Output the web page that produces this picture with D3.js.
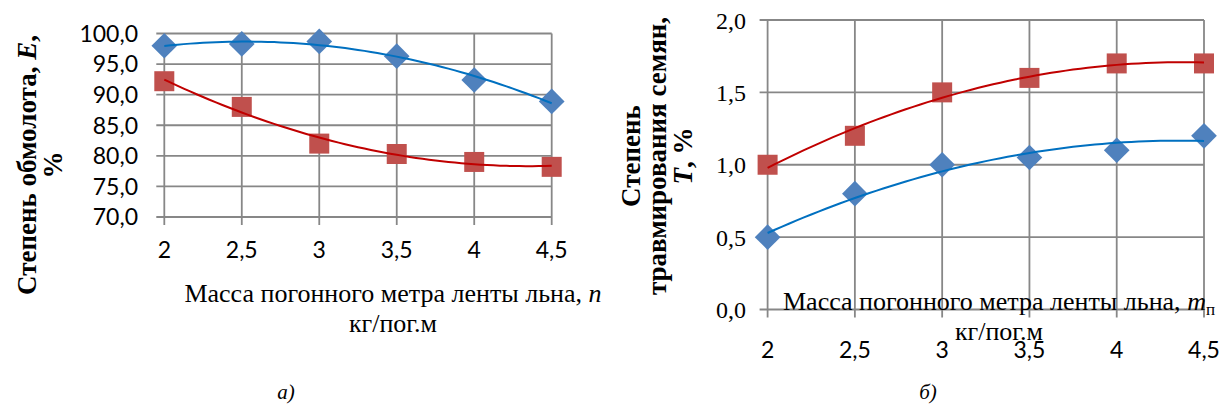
<!DOCTYPE html>
<html><head><meta charset="utf-8">
<script src="https://cdn.jsdelivr.net/npm/d3@7"></script>
<style>
html,body{margin:0;padding:0;background:#fff;}
svg{display:block;}
</style></head>
<body>
<svg id="c" width="1224" height="414"></svg>
<script>
// ---- data ----
const xValues = [2, 2.5, 3, 3.5, 4, 4.5];
const xTickLabels = ["2", "2,5", "3", "3,5", "4", "4,5"];
const leftBlue = [98.0, 98.3, 98.7, 96.3, 92.4, 88.9];
const leftRed = [92.2, 88.0, 82.0, 80.3, 79.0, 78.2];
const leftYTicks = [70, 75, 80, 85, 90, 95, 100];
const leftYTickLabels = ["70,0", "75,0", "80,0", "85,0", "90,0", "95,0", "100,0"];
const rightBlue = [0.5, 0.8, 1.0, 1.05, 1.1, 1.2];
const rightRed = [1.0, 1.2, 1.5, 1.6, 1.7, 1.7];
const rightYTicks = [0, 0.5, 1.0, 1.5, 2.0];
const rightYTickLabels = ["0,0", "0,5", "1,0", "1,5", "2,0"];

const svg = d3.select("#c");
const GRID = "#878787", BLUE_M = "#4F81BD", RED_M = "#C0504D", BLUE_L = "#0070C0", RED_L = "#C00000";
const SERIF = "'Liberation Serif','Times New Roman',serif";
const SANS = "Lato,'Open Sans',sans-serif";

function polyfit2(xs, ys) {
  // least squares quadratic (trend line)
  let S = [0,0,0,0,0], T = [0,0,0];
  xs.forEach((x,i)=>{ for(let k=0;k<5;k++) S[k]+=Math.pow(x,k); for(let k=0;k<3;k++) T[k]+=ys[i]*Math.pow(x,k); });
  const A = [[S[0],S[1],S[2],T[0]],[S[1],S[2],S[3],T[1]],[S[2],S[3],S[4],T[2]]];
  for (let i=0;i<3;i++){ for(let j=i+1;j<3;j++){ const f=A[j][i]/A[i][i]; for(let k=i;k<4;k++) A[j][k]-=f*A[i][k]; } }
  const c=[0,0,0];
  for (let i=2;i>=0;i--){ let s=A[i][3]; for(let k=i+1;k<3;k++) s-=A[i][k]*c[k]; c[i]=s/A[i][i]; }
  return x => c[0]+c[1]*x+c[2]*x*x;
}

function drawChart(cfg) {
  const x = d3.scaleLinear().domain([2, 4.5]).range([cfg.x0, cfg.x1]);
  const y = d3.scaleLinear().domain(cfg.yDomain).range([cfg.y1, cfg.y0]);
  const g = svg.append("g");
  g.selectAll(".hg").data(cfg.yTicks).join("line")
    .attr("x1", cfg.x0 - 8).attr("x2", cfg.x1)
    .attr("y1", d => y(d)).attr("y2", d => y(d))
    .attr("stroke", GRID).attr("stroke-width", 1.8);
  g.selectAll(".vg").data(xValues).join("line")
    .attr("x1", d => x(d)).attr("x2", d => x(d))
    .attr("y1", cfg.y0).attr("y2", cfg.y1 + 8)
    .attr("stroke", GRID).attr("stroke-width", 1.8);
  g.selectAll(".yl").data(cfg.yTicks).join("text")
    .attr("x", cfg.yLabelX).attr("y", d => y(d)).attr("dy", "0.36em")
    .attr("text-anchor", "end").attr("font-family", cfg.yFont).attr("font-size", cfg.yFontSize)
    .attr("fill", "#000").text((d,i) => cfg.yTickLabels[i]);
  g.selectAll(".xl").data(xValues).join("text")
    .attr("x", d => x(d)).attr("y", cfg.xLabelY).attr("dy", "0.36em")
    .attr("text-anchor", "middle").attr("font-family", SANS).attr("font-size", cfg.xFontSize)
    .attr("fill", "#000").text((d,i) => xTickLabels[i]);
  const diamond = d3.symbol().type(d3.symbolSquare).size(330);
  const square = d3.symbol().type(d3.symbolSquare).size(400);
  g.selectAll(".bm").data(cfg.blue).join("path")
    .attr("d", diamond).attr("fill", BLUE_M)
    .attr("transform", (d,i) => `translate(${x(xValues[i])},${y(d)}) rotate(45)`);
  g.selectAll(".rm").data(cfg.red).join("path")
    .attr("d", square).attr("fill", RED_M)
    .attr("transform", (d,i) => `translate(${x(xValues[i])},${y(d)})`);
  const samples = d3.range(0, 61).map(i => 2 + i * 2.5 / 60);
  [[cfg.blue, BLUE_L], [cfg.red, RED_L]].forEach(([vals, col]) => {
    const f = polyfit2(xValues, vals);
    g.append("path").datum(samples)
      .attr("d", d3.line().x(d => x(d)).y(d => y(f(d))))
      .attr("fill", "none").attr("stroke", col).attr("stroke-width", 2);
  });
  return {x, y};
}

drawChart({x0: 164.3, x1: 551.7, y0: 33.5, y1: 217, yDomain: [70, 100], yTicks: leftYTicks,
  yTickLabels: leftYTickLabels, yLabelX: 138, yFont: SANS, yFontSize: 23, xLabelY: 250, xFontSize: 23,
  blue: leftBlue, red: leftRed});
drawChart({x0: 767.6, x1: 1204, y0: 20, y1: 309.5, yDomain: [0, 2], yTicks: rightYTicks,
  yTickLabels: rightYTickLabels, yLabelX: 746, yFont: SERIF, yFontSize: 24, xLabelY: 350, xFontSize: 23,
  blue: rightBlue, red: rightRed});

// ---- axis titles ----
function rotTitle(cy, lines, size) {
  const t = svg.append("text").attr("transform", `translate(0,${cy}) rotate(-90)`)
    .attr("text-anchor", "middle").attr("font-family", SERIF).attr("font-size", size)
    .attr("font-weight", "bold").attr("fill", "#000");
  lines.forEach(ln => {
    const tl = t.append("tspan").attr("x", 0).attr("y", ln.dy);
    ln.parts.forEach(p => tl.append("tspan").attr("font-style", p.it ? "italic" : null).text(p.t));
  });
}
rotTitle(165, [
  {dy: 36, parts: [{t: "Степень обмолота, "}, {t: "E", it: true}, {t: ","}]},
  {dy: 62, parts: [{t: "%"}]}
], 27);
rotTitle(156, [
  {dy: 640, parts: [{t: "Степень"}]},
  {dy: 666, parts: [{t: "травмирования семян,"}]},
  {dy: 692, parts: [{t: "T", it: true}, {t: ", %"}]}
], 27);

function xTitle(cx, y1, y2, sub) {
  const t = svg.append("text").attr("font-family", SERIF).attr("font-size", 26).attr("fill", "#000")
    .attr("text-anchor", "middle");
  const l1 = t.append("tspan").attr("x", cx).attr("y", y1);
  l1.append("tspan").text("Масса погонного метра ленты льна, ");
  l1.append("tspan").attr("font-style", "italic").text(sub ? "m" : "n");
  if (sub) l1.append("tspan").attr("font-size", 17).attr("dy", 5).text("п");
  svg.append("text").attr("font-family", SERIF).attr("font-size", 26).attr("fill", "#000")
    .attr("text-anchor", "middle").attr("x", cx).attr("y", y2).text("кг/пог.м");
}
xTitle(393, 302, 332, false);
xTitle(999, 310, 340, true);

// captions
svg.append("text").attr("x", 286).attr("y", 399).attr("text-anchor", "middle")
  .attr("font-family", SERIF).attr("font-style", "italic").attr("font-size", 21).text("а)");
svg.append("text").attr("x", 928).attr("y", 399).attr("text-anchor", "middle")
  .attr("font-family", SERIF).attr("font-style", "italic").attr("font-size", 21).text("б)");
</script>
</body></html>
